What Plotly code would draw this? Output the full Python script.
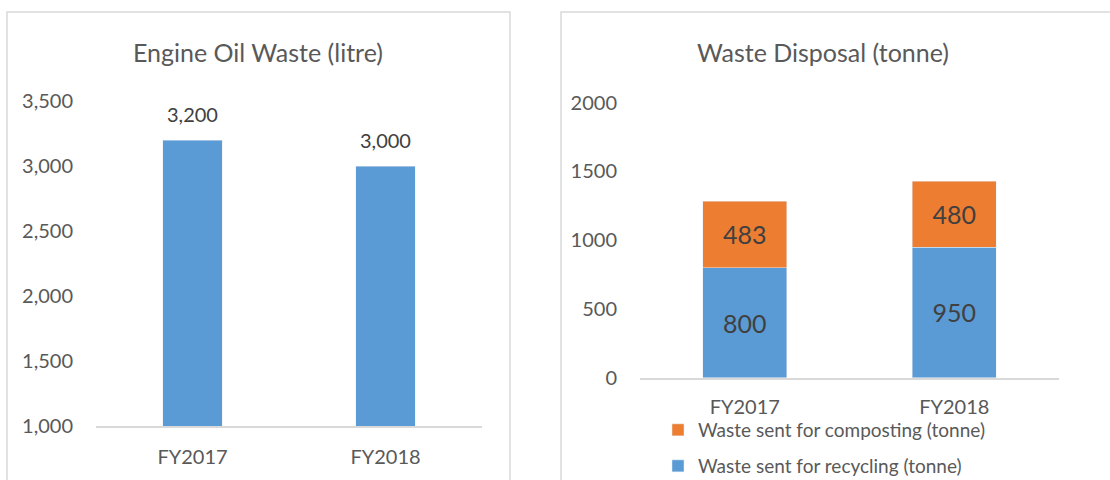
import plotly.graph_objects as go

# data
years = ["FY2017", "FY2018"]
engine_oil = [3200, 3000]
recycling = [800, 950]
composting = [483, 480]

BLUE = "#5B9BD5"
ORANGE = "#ED7D31"
GREY = "#595959"
FONT = "Lato"
W, H = 1110, 480

fig = go.Figure()

# left chart - engine oil
fig.add_trace(go.Bar(x=years, y=engine_oil, marker_color=BLUE, width=0.31,
                     xaxis="x", yaxis="y", showlegend=False))

# right chart - stacked waste disposal
fig.add_trace(go.Bar(x=years, y=recycling, marker_color=BLUE, width=0.40,
                     name="Waste sent for recycling (tonne)",
                     text=recycling, textposition="inside", insidetextanchor="middle",
                     textfont=dict(color="#404040", size=25, family=FONT),
                     xaxis="x2", yaxis="y2", legend="legend2"))
fig.add_trace(go.Bar(x=years, y=composting, marker_color=ORANGE, width=0.40,
                     name="Waste sent for composting (tonne)",
                     text=composting, textposition="inside", insidetextanchor="middle",
                     textfont=dict(color="#404040", size=25, family=FONT),
                     xaxis="x2", yaxis="y2", legend="legend"))

# value labels above left bars
for yr, v in zip(years, engine_oil):
    fig.add_annotation(x=yr, y=v, xref="x", yref="y", text=f"{v:,}",
                       showarrow=False, yanchor="bottom", yshift=12,
                       font=dict(size=20, color="#404040", family=FONT))

axis_font = dict(size=20, color=GREY, family=FONT)
leg_font = dict(size=19, color=GREY, family=FONT)

fig.update_layout(
    width=W, height=H,
    margin=dict(l=0, r=0, t=0, b=0, autoexpand=False),
    paper_bgcolor="white", plot_bgcolor="white",
    barmode="stack",
    font=dict(family=FONT, color=GREY),
    xaxis=dict(domain=[96 / W, 482 / W], anchor="y", showgrid=False,
               showline=True, linecolor="#D9D9D9", linewidth=1.5,
               tickfont=axis_font, ticks="", ticklabelstandoff=12),
    yaxis=dict(domain=[1 - 426 / H, 1 - 101 / H], anchor="x", range=[1000, 3500],
               dtick=500, tickformat=",", showgrid=False, zeroline=False,
               tickfont=axis_font, ticks="", ticklabelstandoff=22),
    xaxis2=dict(domain=[640 / W, 1059 / W], anchor="y2", showgrid=False,
                showline=True, linecolor="#D9D9D9", linewidth=1.5,
                tickfont=axis_font, ticks="", ticklabelstandoff=11),
    yaxis2=dict(domain=[1 - 377.7 / H, 1 - 102.7 / H], anchor="x2", range=[0, 2000],
                dtick=500, tickformat="d", showgrid=False, zeroline=False,
                tickfont=axis_font, ticks="", ticklabelstandoff=22),
    legend=dict(x=658 / W, y=1 - 430 / H, xanchor="left", yanchor="middle",
                font=leg_font, bgcolor="rgba(0,0,0,0)"),
    legend2=dict(x=658 / W, y=1 - 466 / H, xanchor="left", yanchor="middle",
                 font=leg_font, bgcolor="rgba(0,0,0,0)"),
    annotations=list(fig.layout.annotations) + [
        dict(text="Engine Oil Waste (litre)", x=258 / W, y=1 - 52 / H, xref="paper", yref="paper",
             xanchor="center", yanchor="middle", showarrow=False,
             font=dict(size=25, color=GREY, family=FONT)),
        dict(text="Waste Disposal (tonne)", x=823 / W, y=1 - 52 / H, xref="paper", yref="paper",
             xanchor="center", yanchor="middle", showarrow=False,
             font=dict(size=25, color=GREY, family=FONT)),
    ],
    shapes=[
        dict(type="rect", xref="paper", yref="paper", x0=7 / W, x1=510 / W,
             y0=-0.1, y1=1 - 12 / H, line=dict(color="#D9D9D9", width=1.5)),
        dict(type="rect", xref="paper", yref="paper", x0=561 / W, x1=1.1,
             y0=-0.1, y1=1 - 12 / H, line=dict(color="#D9D9D9", width=1.5)),
    ],
)

fig.write_html("out.html", config={"displayModeBar": False},
               post_script="document.body.style.margin='0';")
